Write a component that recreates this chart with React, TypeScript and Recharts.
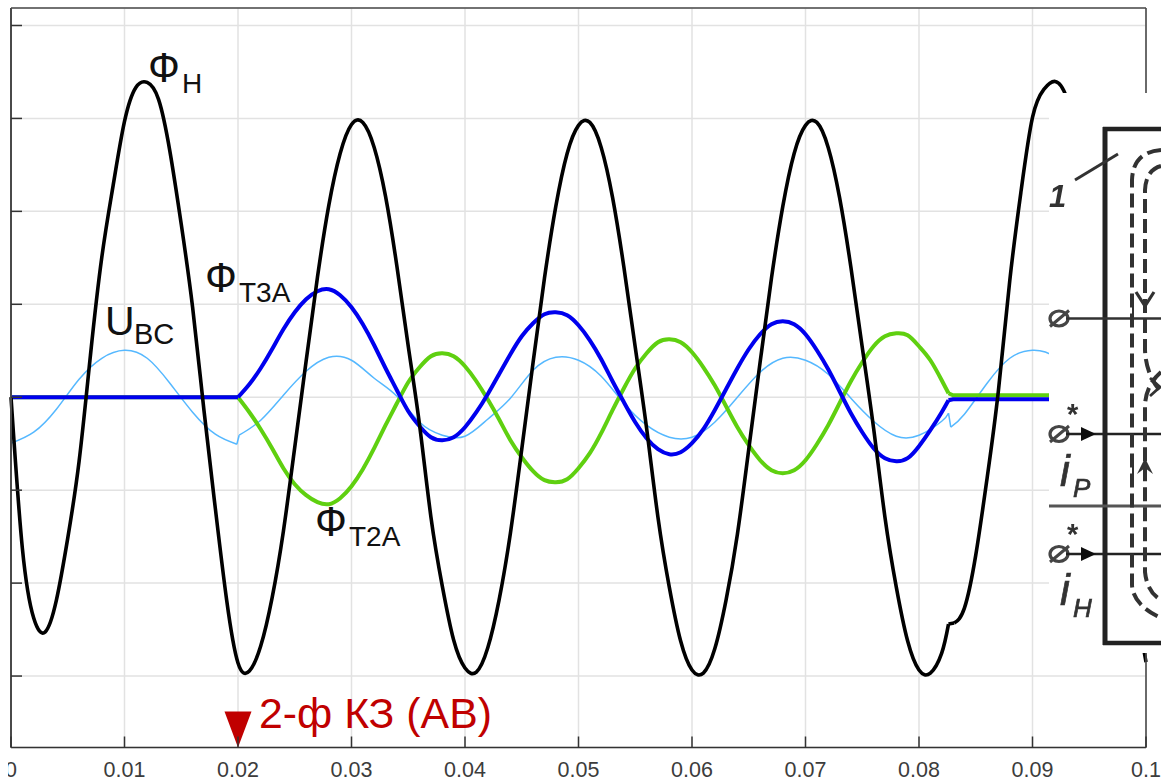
import React from "react";
import {
  LineChart,
  Line,
  XAxis,
  YAxis,
  CartesianGrid,
  ReferenceDot,
} from "recharts";

const range = (a: number, b: number, s: number) => {
  const out: number[] = [];
  for (let k = a; k <= b; k += s) out.push(k / 1000);
  return out;
};

const xTicks = [0, 0.01, 0.02, 0.03, 0.04, 0.05, 0.06, 0.07, 0.08, 0.09, 0.1];
const xLabels = ["0", "0.01", "0.02", "0.03", "0.04", "0.05", "0.06", "0.07", "0.08", "0.09", "0.1"];
const yTicks = [-279, -186, -93, 0, 93, 186, 279, 372];

const fluxNTime = [...range(0, 82, 1), 0.0826, 0.0831, ...range(84, 100, 1)];
const fluxN = [
  0, -151, -221, -235, -203, -141, -64, 42, 140, 212,
  276, 310, 315, 298, 246, 173, 90, -13, -111, -203,
  -266, -274, -249, -201, -134, -50, 36, 120, 192, 244,
  273, 275, 250, 201, 131, 51, -28, -120, -189, -243,
  -271, -275, -251, -203, -136, -52, 35, 119, 191, 244,
  272, 275, 250, 200, 130, 50, -31, -120, -190, -244,
  -273, -276, -252, -203, -137, -52, 35, 119, 191, 244,
  272, 275, 250, 200, 130, 50, -31, -120, -190, -244,
  -273, -276, -256,
  -227, -226,
  -211, -158, -81, 7, 117, 207, 280, 308, 316, 300, 252, 185, 110, 30, -80, -193, -265,
];

const uBcTime = [
  ...range(0, 18, 2), 0.0199, 0.0201, ...range(22, 82, 2), 0.0826, 0.0828, ...range(84, 100, 2),
];
const uBc = [
  -46, -35, -12, 18, 39, 47, 39, 14, -15, -37,
  -47, -38,
  -23, 2, 26, 40, 37, 19, 1, -25, -38, -39,
  -22, -1, 27, 40, 37, 21, -6, -28, -40, -40,
  -25, 0, 25, 39, 37, 23, -1, -24, -39, -38,
  -24,
  -16, -30,
  -17, 14, 39, 47, 40, 17, -3, -28, -43,
];

const phaseTime = [0, 0.02, ...range(21, 82, 1), 0.0826, 0.083, 0.1];
const fluxT3A = [
  0, 0,
  13, 29, 48, 68, 85, 98, 106, 108, 102, 90,
  73, 52, 29, 7, -14, -29, -40, -43, -40, -30,
  -15, 3, 23, 43, 61, 74, 83, 85, 82, 72,
  57, 38, 16, -5, -25, -41, -52, -57, -55, -46,
  -32, -13, 8, 29, 48, 63, 73, 76, 73, 63,
  47, 28, 6, -16, -35, -51, -61, -64, -61, -49,
  -33, -15,
  -3, -2, -2,
];
const fluxT2A = [
  0, 0,
  -15, -32, -51, -71, -87, -98, -105, -107, -101, -89,
  -72, -51, -28, -6, 15, 30, 41, 44, 41, 31,
  16, -2, -22, -43, -60, -74, -83, -85, -82, -71,
  -56, -36, -13, 9, 29, 44, 55, 58, 55, 45,
  30, 12, -9, -30, -48, -63, -73, -76, -73, -63,
  -47, -28, -6, 16, 35, 51, 61, 64, 62, 51,
  37, 17,
  4, 2, 2,
];

// A sharp break in a trace ends one smooth stretch and starts the next.
type Stretch = [number, number, "natural" | "linear"];
const fluxNStretches: Stretch[] = [[0, 83, "natural"], [83, 84, "linear"], [84, 101, "natural"]];
const uBcStretches: Stretch[] = [[0, 10, "natural"], [10, 11, "linear"], [11, 43, "natural"], [43, 44, "linear"], [44, 53, "natural"]];
const phaseStretches: Stretch[] = [[0, 1, "linear"], [1, 64, "natural"], [64, 66, "linear"]];

const slice = (t: number[], v: number[], a: number, b: number) =>
  t.slice(a, b + 1).map((x, i) => ({ t: x, v: v[a + i] }));

const trace = (name: string, t: number[], v: number[], parts: Stretch[], stroke: string, strokeWidth: number) =>
  parts.map(([a, b, type]) => (
    <Line
      key={`${name}-${a}`}
      data={slice(t, v, a, b)}
      dataKey="v"
      type={type}
      stroke={stroke}
      strokeWidth={strokeWidth}
      dot={false}
      isAnimationActive={false}
    />
  ));

const AXIS = "#4a4a4a";

const BottomTick = (p: any) => {
  const i = xTicks.indexOf(p.payload.value);
  return (
    <g>
      <line x1={p.x} x2={p.x} y1={p.y} y2={p.y - 11} stroke="#333" strokeWidth={1.5} />
      <text x={p.x} y={p.y + 29} textAnchor="middle" fontFamily="Liberation Sans" fontSize={21.5} fill="#3c3c3c">
        {xLabels[i]}
      </text>
    </g>
  );
};
const TopTick = (p: any) => (
  <line x1={p.x} x2={p.x} y1={p.y} y2={p.y + 11} stroke="#333" strokeWidth={1.5} />
);
const LeftTick = (p: any) => (
  <line x1={p.x} x2={p.x + 11} y1={p.y} y2={p.y} stroke="#333" strokeWidth={1.5} />
);
const RightTick = (p: any) => (
  <line x1={p.x} x2={p.x - 11} y1={p.y} y2={p.y} stroke="#333" strokeWidth={1.5} />
);
const FaultMarker = (p: any) => (
  <polygon
    points={`${p.cx - 13.5},${p.cy - 36} ${p.cx + 13.5},${p.cy - 36} ${p.cx},${p.cy}`}
    fill="#c00000"
  />
);

const Sans = "Liberation Sans";
const Flux = ({ x, y, sx, sy, sub }: any) => (
  <g fontFamily={Sans} fill="#111">
    <text x={x} y={y} fontSize={42}>Ф</text>
    <text x={sx} y={sy} fontSize={28}>{sub}</text>
  </g>
);

const Terminal = ({ y }: { y: number }) => (
  <g>
    <ellipse cx={1059} cy={y} rx={9} ry={7.5} fill="none" stroke="#444" strokeWidth={3.2} />
    <line x1={1050} y1={y + 8} x2={1069} y2={y - 8} stroke="#444" strokeWidth={3} />
  </g>
);
const ArrowWire = ({ y }: { y: number }) => (
  <g>
    <Terminal y={y} />
    <line x1={1066} x2={1161} y1={y} y2={y} stroke="#222" strokeWidth={2.4} />
    <polygon points={`${1081},${y - 7} ${1096},${y} ${1081},${y + 7}`} fill="#111" />
    <text x={1067} y={y - 10} fontFamily={Sans} fontSize={29} fontWeight="bold" fill="#333">*</text>
  </g>
);

const Inset = () => (
  <g>
    <rect x={1049} y={93} width={112} height={560} fill="#fff" />
    <g filter="url(#soft)">
      <line x1={1105} x2={1105} y1={127} y2={645} stroke="#222" strokeWidth={5} />
      <line x1={1103} x2={1161} y1={129} y2={129} stroke="#222" strokeWidth={4.5} />
      <line x1={1103} x2={1161} y1={643} y2={643} stroke="#222" strokeWidth={4.5} />
      <line x1={1075} y1={180} x2={1118} y2={154} stroke="#333" strokeWidth={3} />
      <text x={1049} y={207} fontFamily={Sans} fontStyle="italic" fontWeight="bold" fontSize={31} fill="#333">1</text>

      <Terminal y={318.5} />
      <line x1={1066} x2={1161} y1={318.5} y2={318.5} stroke="#333" strokeWidth={2.4} />
      <ArrowWire y={434} />
      <line x1={1049} x2={1161} y1={506} y2={506} stroke="#555" strokeWidth={3} />
      <ArrowWire y={554} />

      <path d="M1161,150 Q1133,152 1132,180 L1132,585 Q1133,605 1161,618" fill="none" stroke="#333" strokeWidth={4} strokeDasharray="14 6" />
      <path d="M1161,166 Q1146,170 1145,190 L1145,350 Q1146,375 1161,392" fill="none" stroke="#333" strokeWidth={4} strokeDasharray="14 6" />
      <path d="M1161,372 Q1146,385 1145,405 L1145,572 Q1147,592 1161,600" fill="none" stroke="#333" strokeWidth={4} strokeDasharray="14 6" />
      <path d="M1136,292 L1145,306 L1154,292" fill="none" stroke="#333" strokeWidth={3.2} />
      <path d="M1137,474 L1145,458 L1153,474 L1145,468 Z" fill="#333" />
      <path d="M1150,378 L1160,387 L1150,396" fill="none" stroke="#333" strokeWidth={2.8} />
      <line x1={1133} x2={1133} y1={298} y2={326} stroke="#333" strokeWidth={2} />
      <line x1={1133} x2={1133} y1={462} y2={486} stroke="#333" strokeWidth={2} />

      <g fontFamily={Sans} fontStyle="italic" fill="#333" stroke="#333" strokeWidth={0.7}>
        <text x={1060} y={486} fontSize={44}>i</text>
        <text x={1073} y={497} fontSize={26}>P</text>
        <text x={1060} y={605} fontSize={44}>i</text>
        <text x={1073} y={617} fontSize={26}>H</text>
      </g>
    </g>
  </g>
);

export default function App() {
  return (
    <div style={{ position: "absolute", left: 0, top: 0, width: 1161, height: 783, overflow: "hidden", background: "#fff" }}>
      <LineChart
        width={1161}
        height={783}
        margin={{ top: 7, right: 14, bottom: 0, left: 10 }}
        style={{ position: "absolute", left: 0, top: 0 }}
      >
        <CartesianGrid stroke="#e2e2e2" strokeWidth={1.5} />
        <XAxis
          type="number"
          dataKey="t"
          domain={[0, 0.1]}
          ticks={xTicks}
          interval={0}
          height={35.5}
          tickSize={0}
          tickMargin={0}
          tickLine={false}
          axisLine={{ stroke: "#333", strokeWidth: 1.6 }}
          tick={BottomTick}
        />
        <XAxis
          xAxisId="top"
          orientation="top"
          type="number"
          dataKey="t"
          domain={[0, 0.1]}
          ticks={xTicks}
          interval={0}
          height={1}
          tickSize={0}
          tickMargin={0}
          tickLine={false}
          axisLine={{ stroke: AXIS, strokeWidth: 1.6 }}
          tick={TopTick}
        />
        <YAxis
          type="number"
          domain={[-350.5, 389.5]}
          ticks={yTicks}
          interval={0}
          width={1}
          tickSize={0}
          tickMargin={0}
          tickLine={false}
          axisLine={{ stroke: AXIS, strokeWidth: 2 }}
          tick={LeftTick}
        />
        <YAxis
          yAxisId="right"
          orientation="right"
          type="number"
          domain={[-350.5, 389.5]}
          ticks={yTicks}
          interval={0}
          width={1}
          tickSize={0}
          tickMargin={0}
          tickLine={false}
          axisLine={{ stroke: AXIS, strokeWidth: 1.6 }}
          tick={RightTick}
        />
        {trace("ubc", uBcTime, uBc, uBcStretches, "#55b8ff", 1.5)}
        {trace("t2a", phaseTime, fluxT2A, phaseStretches, "#5fd010", 4)}
        {trace("t3a", phaseTime, fluxT3A, phaseStretches, "#0000ee", 4)}
        {trace("n", fluxNTime, fluxN, fluxNStretches, "#000", 3.6)}
        <ReferenceDot x={0.02} y={-350.5} r={1} shape={FaultMarker} />
      </LineChart>
      <svg width={1161} height={783} style={{ position: "absolute", left: 0, top: 0 }}>
        <defs>
          <filter id="soft" x="-5%" y="-5%" width="110%" height="110%">
            <feGaussianBlur stdDeviation="0.6" />
          </filter>
        </defs>
        <Flux x={148} y={82} sx={182} sy={93} sub="H" />
        <Flux x={205} y={292} sx={239} sy={302} sub="Т3А" />
        <Flux x={315} y={536} sx={349} sy={546} sub="Т2А" />
        <g fontFamily={Sans} fill="#111">
          <text x={105} y={335} fontSize={41}>U</text>
          <text x={134} y={344} fontSize={29}>BC</text>
        </g>
        <text x={259} y={728} fontFamily={Sans} fontSize={42.8} fill="#c00000">2-ф КЗ (АВ)</text>
        <rect x={0} y={752} width={8} height={31} fill="#fff" />
        <Inset />
      </svg>
    </div>
  );
}
